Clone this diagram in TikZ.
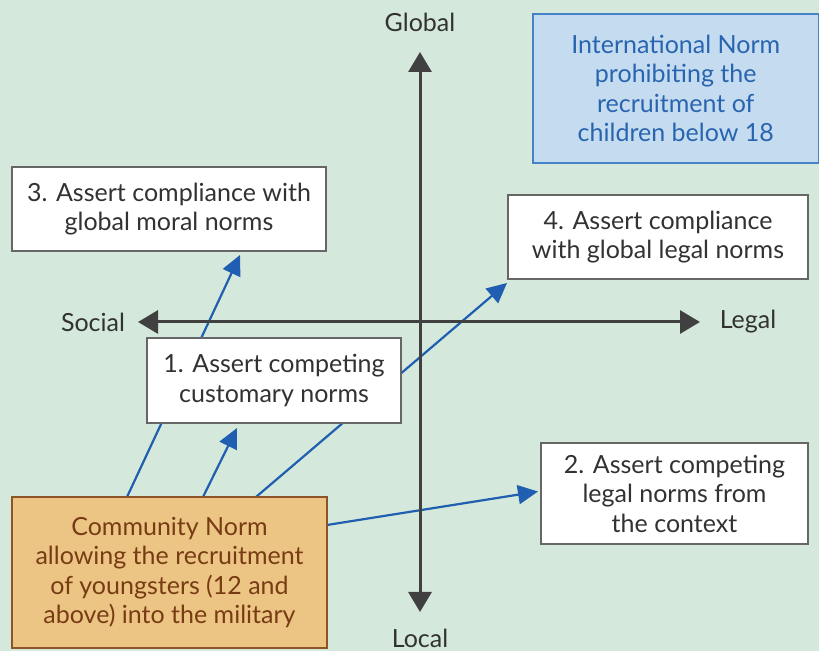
\documentclass[tikz,border=0pt]{standalone}
\usepackage{fontspec}
\setmainfont{Lato}
\usepackage{xcolor}
\usetikzlibrary{arrows.meta,positioning,calc,backgrounds}
\definecolor{cBg}{RGB}{212,233,219}
\definecolor{cAxis}{RGB}{64,64,64}
\definecolor{cLink}{RGB}{31,94,176}
\definecolor{cIntl}{RGB}{197,220,240}
\definecolor{cIntlD}{RGB}{70,130,200}
\definecolor{cIntlT}{RGB}{40,100,175}
\definecolor{cComm}{RGB}{236,197,132}
\definecolor{cCommD}{RGB}{140,85,40}
\definecolor{cCommT}{RGB}{120,60,20}
\definecolor{cText}{RGB}{50,50,50}

\begin{document}
\begin{tikzpicture}[x=0.5pt, y=-0.5pt,
  every node/.style={font=\fontsize{12.5}{14.75}\selectfont, text=cText, outer sep=0pt},
  box/.style={draw=gray!80!black, fill=white, line width=0.6pt, align=center, inner sep=2pt},
  intl/.style={box, draw=cIntlD, fill=cIntl, text=cIntlT},
  comm/.style={box, draw=cCommD, fill=cComm, text=cCommT},
  axis/.style={draw=cAxis, line width=1.5pt, -{Triangle[length=10pt,width=11.5pt]}},
  link/.style={draw=cLink, line width=1.1pt, -{Triangle[length=10pt,width=9.5pt]}}]
\useasboundingbox (0,0) rectangle (819,651);
% axes
\coordinate (c) at (420,322);
\coordinate (top) at (420,52); \coordinate (bot) at (420,612);
\coordinate (lft) at (138,322); \coordinate (rgt) at (700,322);
\draw[axis] (c) -- (top); \draw[axis] (c) -- (bot);
\draw[axis] (c) -- (lft); \draw[axis] (c) -- (rgt);
\node (glob) at (420,22) {Global};
\node (loc) at (420,638) {Local};
\node (soc) at (93,322) {Social};
\node (leg) at (748,322) {Legal};
% boxes
\node[intl, minimum width=142.75pt, minimum height=74.5pt] (intl) at (675.75,88.5)
  {International Norm\\prohibiting the\\recruitment of\\children below 18};
\node[box, minimum width=157pt, minimum height=42pt] (moral) at (169,209)
  {3. Assert compliance with\\global moral norms};
\node[box, minimum width=150pt, minimum height=42pt] (legal4) at (658,237)
  {4. Assert compliance\\with global legal norms};
\node[box, minimum width=127pt, minimum height=42.5pt] (custom) at (274,380.5)
  {1. Assert competing\\customary norms};
\node[box, minimum width=133.5pt, minimum height=50.5pt] (context) at (674.5,493.5)
  {2. Assert competing\\legal norms from\\the context};
\node[comm, minimum width=157.5pt, minimum height=75.5pt] (comm) at (169.5,572.5)
  {Community Norm\\allowing the recruitment\\of youngsters (12 and\\above) into the military};
% links run behind box 1
\begin{scope}[on background layer]
\fill[cBg] (0,0) rectangle (819,651);
\draw[link] ($(comm.north west)+(115,0)$) -- ($(moral.south west)+(228,4)$);
\draw[link] ($(comm.north west)+(244,0)$) -- ($(legal4.south west)+(-1,4)$);
\draw[link] ($(comm.north west)+(191,0)$) -- ($(custom.south west)+(90,5)$);
\draw[link] ($(comm.north east)+(0,28)$) -- ($(context.west)+(-3,-2)$);
\end{scope}
\end{tikzpicture}
\end{document}
